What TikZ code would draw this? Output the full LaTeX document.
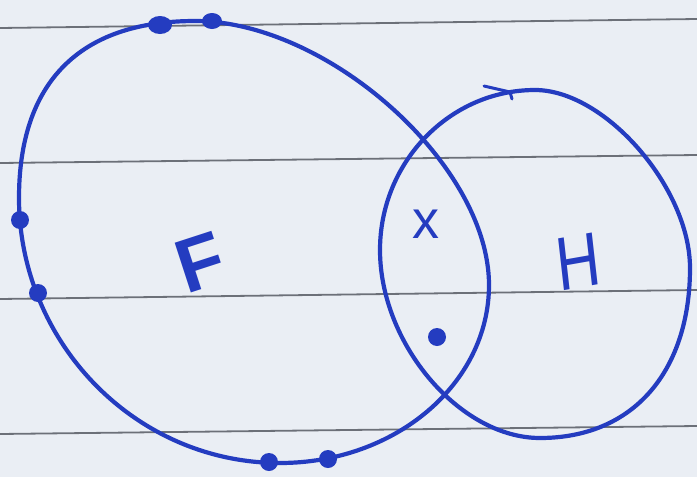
\documentclass[tikz,border=0pt]{standalone}
\usepackage{fontspec}
\setsansfont{Liberation Sans}
\begin{document}
\begin{tikzpicture}[x=1pt, y=-1pt, line cap=round, line join=round,
  pen/.style={penblue, line width=4.2pt},
  ruled/.style={ruling, line width=1.8pt},
  handtext/.style={penblue, font=\sffamily}]
  \definecolor{penblue}{RGB}{36,60,192}
  \definecolor{paper}{RGB}{234,238,244}
  \definecolor{ruling}{RGB}{108,112,120}
  \fill[paper] (0,0) rectangle (697,477);
  \useasboundingbox (0,0) rectangle (697,477);
  % ruled lines of the page
  \draw[ruled] (0,28)--(697,19);
  \draw[ruled] (0,163)--(697,155);
  \draw[ruled] (0,299)--(697,290);
  \draw[ruled] (0,434)--(697,426);
  % set F
  \coordinate (Ftop) at (195,21);
  \coordinate (Fright) at (489,285);
  \coordinate (Fbot) at (280,463);
  \coordinate (Fleft) at (19,198);
  \draw[pen] (Ftop) .. controls (328,21) and (489,165) .. (Fright)
    .. controls (489,384) and (395,463) .. (Fbot)
    .. controls (135,463) and (19,342) .. (Fleft)
    .. controls (19,84) and (78,21) .. (Ftop) -- cycle;
  % set H
  \coordinate (Htop) at (535,90);
  \coordinate (Hright) at (690,268);
  \coordinate (Hbot) at (540,438);
  \coordinate (Hleft) at (380,250);
  \draw[pen] (Htop) .. controls (605,90) and (690,188) .. (Hright)
    .. controls (690,372) and (633,438) .. (Hbot)
    .. controls (460,438) and (380,344) .. (Hleft)
    .. controls (380,162) and (450,90) .. (Htop) -- cycle;
  \draw[pen, line width=3pt] (484,86)--(510,92)--(512,99);
  % elements
  \coordinate (topA) at (160,25);
  \coordinate (topB) at (212,21);
  \coordinate (sideA) at (20,220);
  \coordinate (sideB) at (38,293);
  \coordinate (botA) at (269,462);
  \coordinate (botB) at (328,459);
  \coordinate (mid) at (437,337);
  \fill[penblue] (topA) ellipse [x radius=12pt, y radius=9pt];
  \fill[penblue] (topB) ellipse [x radius=10pt, y radius=8pt];
  \foreach \p in {sideA,sideB,botA,botB}
    \fill[penblue] (\p) circle (9pt);
  \fill[penblue] (mid) circle (9pt);
  \node[handtext, font=\sffamily\bfseries\fontsize{76}{76}\selectfont, rotate=18] (lblF) at (200,262) {F};
  \node[handtext, font=\sffamily\fontsize{76}{76}\selectfont, xscale=0.8, rotate=8] (lblH) at (578,262) {H};
  \node[handtext, font=\sffamily\fontsize{54}{54}\selectfont] (lblx) at (426,224) {x};
\end{tikzpicture}
\end{document}
